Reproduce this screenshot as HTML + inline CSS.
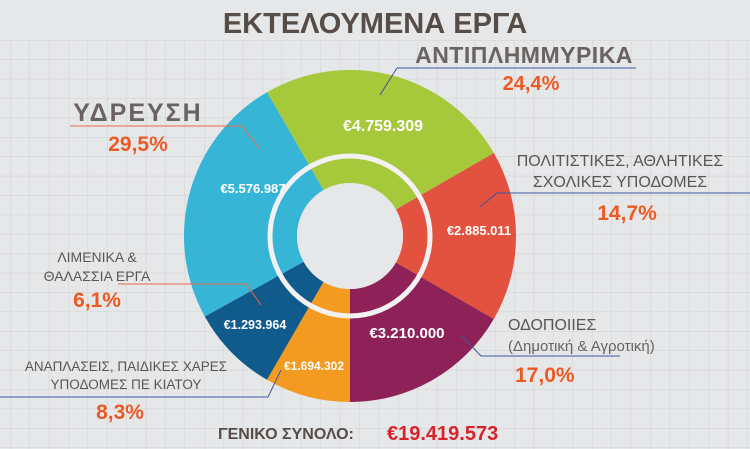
<!DOCTYPE html>
<html><head><meta charset="utf-8"><style>
html,body{margin:0;padding:0;background:#e6e7e8;}
svg{display:block;}
text{font-family:"Liberation Sans","DejaVu Sans",sans-serif;}
</style></head><body>
<svg width="750" height="449" viewBox="0 0 750 449" xmlns="http://www.w3.org/2000/svg">
<defs>
<pattern id="g" x="10" y="40" width="19.4" height="19.4" patternUnits="userSpaceOnUse">
<path d="M0 0H19.4M0 0V19.4" stroke="#d0d1d3" stroke-width="1" fill="none"/>
</pattern>
</defs>
<rect width="750" height="449" fill="#e6e7e8"/>
<rect x="0" y="40" width="750" height="409" fill="url(#g)"/>
<text x="375" y="33" text-anchor="middle" font-size="29" font-weight="bold" fill="#564d49">ΕΚΤΕΛΟΥΜΕΝΑ ΕΡΓΑ</text>

<path d="M267 92.2 A166 166 0 0 1 493.8 153 L395.9 209.5 A53 53 0 0 0 323.5 190.1Z" fill="#a6c83b"/>
<path d="M493.8 153 A166 166 0 0 1 493.8 319 L395.9 262.5 A53 53 0 0 0 395.9 209.5Z" fill="#e3513f"/>
<path d="M493.8 319 A166 166 0 0 1 350 402 L350 289 A53 53 0 0 0 395.9 262.5Z" fill="#8f2159"/>
<path d="M350 402 A166 166 0 0 1 267 379.8 L323.5 281.9 A53 53 0 0 0 350 289Z" fill="#f39a20"/>
<path d="M267 379.8 A166 166 0 0 1 204.8 316.5 L303.6 261.7 A53 53 0 0 0 323.5 281.9Z" fill="#115a8c"/>
<path d="M204.8 316.5 A166 166 0 0 1 267 92.2 L323.5 190.1 A53 53 0 0 0 303.6 261.7Z" fill="#36b5d7"/>
<circle cx="350" cy="236" r="80" fill="none" stroke="#f2f2f2" stroke-width="5"/>
<circle cx="350" cy="236" r="53" fill="#e6e7e8"/>

<g font-weight="bold" fill="#fff" text-anchor="middle">
<text x="383" y="131" font-size="16">€4.759.309</text>
<text x="253" y="193" font-size="13">€5.576.987</text>
<text x="479" y="235" font-size="13">€2.885.011</text>
<text x="407" y="338" font-size="15">€3.210.000</text>
<text x="255" y="329" font-size="12.5">€1.293.964</text>
<text x="314" y="370" font-size="12">€1.694.302</text>
</g>

<g fill="none" stroke-width="1">
<path d="M380 95 L397 68 H636" stroke="#3d55a0"/>
<path d="M260 149 L242 126 H70" stroke="#e86a4a"/>
<path d="M480 207 L497 193 H750" stroke="#3d55a0"/>
<path d="M461 335 L481 356 H620" stroke="#3d55a0"/>
<path d="M261 305 L246 284 H118" stroke="#e86a4a"/>
<path d="M281 370 L268 397 H0" stroke="#3d55a0"/>
</g>

<g font-weight="bold">
<text x="524" y="63" text-anchor="middle" font-size="23" fill="#6a6361" letter-spacing="0.5">ΑΝΤΙΠΛΗΜΜΥΡΙΚΑ</text>
<text x="531" y="90" text-anchor="middle" font-size="20" fill="#ec5a24">24,4%</text>
<text x="138" y="121" text-anchor="middle" font-size="25" fill="#6a6361" letter-spacing="2">ΥΔΡΕΥΣΗ</text>
<text x="138" y="151" text-anchor="middle" font-size="21" fill="#ec5a24">29,5%</text>
<text x="620" y="166" text-anchor="middle" font-size="16" font-weight="normal" fill="#5c5553">ΠΟΛΙΤΙΣΤΙΚΕΣ, ΑΘΛΗΤΙΚΕΣ</text>
<text x="620" y="187" text-anchor="middle" font-size="16" font-weight="normal" fill="#5c5553">ΣΧΟΛΙΚΕΣ ΥΠΟΔΟΜΕΣ</text>
<text x="627" y="220" text-anchor="middle" font-size="21" fill="#ec5a24">14,7%</text>
<text x="508" y="330" font-size="16" font-weight="normal" fill="#5c5553">ΟΔΟΠΟΙΙΕΣ</text>
<text x="508" y="351" font-size="15" font-weight="normal" fill="#6a6361">(Δημοτική &amp; Αγροτική)</text>
<text x="515" y="382" font-size="21" fill="#ec5a24">17,0%</text>
<text x="97" y="262" text-anchor="middle" font-size="14" font-weight="normal" fill="#5c5553">ΛΙΜΕΝΙΚΑ &amp;</text>
<text x="97" y="281" text-anchor="middle" font-size="14" font-weight="normal" fill="#5c5553">ΘΑΛΑΣΣΙΑ ΕΡΓΑ</text>
<text x="97" y="307" text-anchor="middle" font-size="21" fill="#ec5a24">6,1%</text>
<text x="126" y="371" text-anchor="middle" font-size="13.5" font-weight="normal" fill="#5c5553">ΑΝΑΠΛΑΣΕΙΣ, ΠΑΙΔΙΚΕΣ ΧΑΡΕΣ</text>
<text x="126" y="389" text-anchor="middle" font-size="13.5" font-weight="normal" fill="#5c5553">ΥΠΟΔΟΜΕΣ ΠΕ ΚΙΑΤΟΥ</text>
<text x="120" y="419" text-anchor="middle" font-size="21" fill="#ec5a24">8,3%</text>
<text x="218" y="439" font-size="16" fill="#564d49">ΓΕΝΙΚΟ ΣΥΝΟΛΟ:</text>
<text x="387" y="440" font-size="20" fill="#d8232a">€19.419.573</text>
</g>
</svg>
</body></html>
